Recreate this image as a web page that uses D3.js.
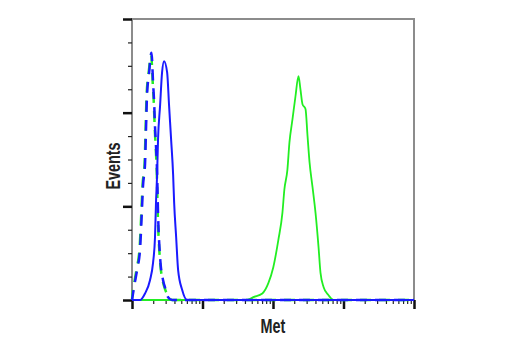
<!DOCTYPE html>
<html><head><meta charset="utf-8">
<script src="https://cdn.jsdelivr.net/npm/d3@7"></script>
<style>body{margin:0;background:#fff}svg{display:block}</style>
</head><body>
<script>
// Data (fluorescence intensity on log axis, event counts)
const solidBlueX = [1, 1.30, 1.53, 1.80, 1.99, 2.12, 2.19, 2.27, 2.34, 2.50, 2.67, 2.85, 3.15, 3.36, 3.59, 3.83, 3.96, 4.23, 4.51, 5.14, 6.06, 10000];
const solidBlueY = [0, 0, 7, 21, 40, 67, 104, 134, 171, 207, 243, 255, 243, 207, 171, 134, 104, 67, 32, 11, 0, 0];
const solidGreenX = [1, 43.3, 52.6, 70.6, 85.9, 101, 119, 136, 145, 160, 171, 189, 208, 230, 245, 262, 289, 309, 330, 363, 401, 442, 472, 521, 614, 723, 10000];
const solidGreenY = [0, 0, 3, 7, 18, 35, 64, 93, 118, 139, 168, 193, 217, 239, 225, 209, 204, 175, 147, 121, 93, 57, 29, 14, 5, 0, 0];
const dashedBlueX = [1, 1.03, 1.07, 1.18, 1.30, 1.39, 1.43, 1.53, 1.58, 1.63, 1.75, 1.89, 1.99, 2.06, 2.12, 2.19, 2.27, 2.34, 2.50, 2.76, 2.95, 3.25, 3.71, 10000];
const dashedBlueY = [0, 6, 14, 32, 54, 100, 121, 145, 182, 217, 243, 264, 232, 211, 185, 164, 136, 93, 46, 21, 13, 3, 0, 0];
const dashedGreenX = [1, 1.02, 1.06, 1.16, 1.28, 1.37, 1.41, 1.51, 1.56, 1.61, 1.73, 1.87, 1.97, 2.04, 2.10, 2.17, 2.25, 2.32, 2.48, 2.74, 2.93, 3.22, 3.71, 10000];
const dashedGreenY = [0, 7, 15, 33, 55, 101, 122, 146, 183, 218, 244, 262, 231, 210, 184, 163, 135, 92, 45, 20, 12, 5, 0, 0];
const xDomain = [1, 10000];
const yDomain = [0, 300];
const yMajorTicks = [0, 100, 200, 300];
const yMinorTicks = [25, 50, 75, 125, 150, 175, 225, 250, 275];
const xLabel = "Met";
const yLabel = "Events";

const W = 520, H = 350;
const m = {left: 132, top: 19, right: 106, bottom: 50};
const iw = W - m.left - m.right, ih = H - m.top - m.bottom;

const svg = d3.select("body").append("svg").attr("width", W).attr("height", H);
const g = svg.append("g").attr("transform", `translate(${m.left},${m.top})`);

const x = d3.scaleLog().domain(xDomain).range([0, iw]);
const y = d3.scaleLinear().domain(yDomain).range([ih, 0]);

// frame
g.append("rect").attr("x", 0).attr("y", 0).attr("width", iw).attr("height", ih)
  .attr("fill", "none").attr("stroke", "#8c8c8c").attr("stroke-width", 2);

// y axis ticks
const yMaj = d3.axisLeft(y).tickValues(yMajorTicks).tickSize(9).tickFormat("");
const yMin = d3.axisLeft(y).tickValues(yMinorTicks).tickSize(4).tickFormat("");
const ya = g.append("g").call(yMaj);
ya.select(".domain").remove();
ya.selectAll("line").attr("stroke", "#111").attr("stroke-width", 2.5);
const ym = g.append("g").call(yMin);
ym.select(".domain").remove();
ym.selectAll("line").attr("stroke", "#222").attr("stroke-width", 1.2);

// x axis ticks
const allX = [];
for (let d = 1; d < 10000; d *= 10) for (let k = 2; k <= 9; k++) allX.push(d * k);
const xMaj = d3.axisBottom(x).tickValues([1, 10, 100, 1000, 10000]).tickSize(9).tickFormat("");
const xMin = d3.axisBottom(x).tickValues(allX).tickSize(4).tickFormat("");
const xa = g.append("g").attr("transform", `translate(0,${ih})`).call(xMaj);
xa.select(".domain").remove();
xa.selectAll("line").attr("stroke", "#111").attr("stroke-width", 2.5);
const xm = g.append("g").attr("transform", `translate(0,${ih})`).call(xMin);
xm.select(".domain").remove();
xm.selectAll("line").attr("stroke", "#222").attr("stroke-width", 1.2);

const line = d3.line().x(d => x(d[0])).y(d => y(d[1])).curve(d3.curveMonotoneX);
const zip = (a, b) => a.map((v, i) => [v, b[i]]);

g.append("path").datum(zip(dashedGreenX, dashedGreenY)).attr("d", line)
  .attr("fill", "none").attr("stroke", "#22ee22").attr("stroke-width", 2.5)
  .attr("stroke-dasharray", "11,8").attr("stroke-dashoffset", 1);
g.append("path").datum(zip(solidGreenX, solidGreenY)).attr("d", line)
  .attr("fill", "none").attr("stroke", "#22ee22").attr("stroke-width", 1.8);
g.append("path").datum(zip(dashedBlueX, dashedBlueY)).attr("d", line)
  .attr("fill", "none").attr("stroke", "#1a1aff").attr("stroke-width", 2.5)
  .attr("stroke-dasharray", "11,8").attr("stroke-dashoffset", 1);
g.append("path").datum(zip(solidBlueX, solidBlueY)).attr("d", line)
  .attr("fill", "none").attr("stroke", "#1a1aff").attr("stroke-width", 2);

const font = "'Liberation Sans',Arial,sans-serif";
svg.append("text").attr("transform", `translate(${m.left + iw / 2},333) scale(0.72,1)`)
  .attr("text-anchor", "middle").attr("font-family", font).attr("font-weight", "bold")
  .attr("font-size", 20).attr("fill", "#222").text(xLabel);
svg.append("text").attr("transform", `translate(120,166) rotate(-90) scale(0.72,1)`)
  .attr("text-anchor", "middle").attr("font-family", font).attr("font-weight", "bold")
  .attr("font-size", 20).attr("fill", "#222").text(yLabel);
</script>
</body></html>
